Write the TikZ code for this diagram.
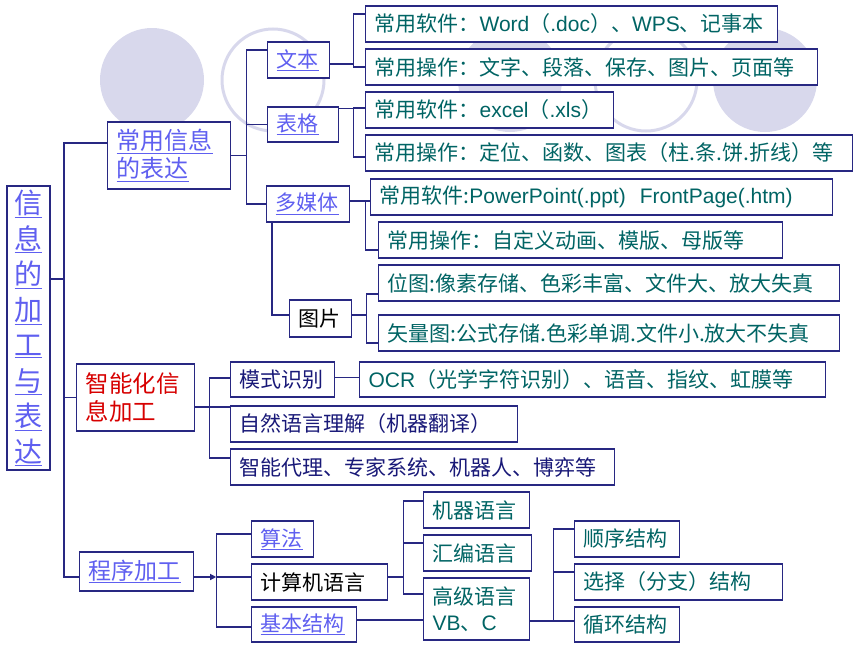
\documentclass[tikz,border=0pt]{standalone}
\usepackage{fontspec}
\newfontfamily\cjk{Noto Sans CJK SC}
\newfontfamily\engfont{Liberation Sans}
\newcommand\eng[1]{{\engfont #1}}
\usetikzlibrary{arrows.meta}
\definecolor{boxline}{RGB}{40,40,130}
\definecolor{linkblue}{RGB}{95,95,240}
\definecolor{leafteal}{RGB}{0,100,100}
\definecolor{darknavy}{RGB}{25,25,120}
\definecolor{hotred}{RGB}{215,0,0}
\definecolor{bubble}{RGB}{216,216,236}

\begin{document}
\begin{tikzpicture}[x=1pt, y=-1pt,
  box/.style={draw=boxline, line width=1.2pt, fill=white, anchor=west, inner xsep=9pt, inner ysep=1pt,
    minimum height=36pt, align=left, font=\cjk\fontsize{21}{24}\selectfont},
  leaf/.style={box, text=leafteal},
  plain/.style={box, text=darknavy},
  link/.style={box, text=linkblue},
  wire/.style={draw=boxline, line width=1.2pt}]

\useasboundingbox (0,0) rectangle (860,645);

\fill[bubble] (152,80) circle (52pt);
\draw[bubble, line width=3pt] (273,80) circle (51pt);
\fill[bubble] (510,80) circle (52pt);
\draw[bubble, line width=3pt] (646,80) circle (51pt);
\fill[bubble] (765,80) circle (52pt);

\begin{scope}
  \node[link, anchor=center, align=center, inner xsep=0pt, minimum width=43pt, minimum height=284pt,
    font=\cjk\fontsize{28}{35.5}\selectfont] (root) at (28.5,328)
    {\underline{信}\\\underline{息}\\\underline{的}\\\underline{加}\\\underline{工}\\\underline{与}\\\underline{表}\\\underline{达}};

  \node[link, text width=105pt, minimum height=67pt, font=\cjk\fontsize{24}{28}\selectfont] (express) at (107,155.5)
    {\underline{常用信息}\\\underline{的表达}};
  \node[link, text width=44pt] (txt) at (267,60) {\underline{文本}};
  \node[link, text width=53pt, minimum height=35pt] (tbl) at (267,124.5) {\underline{表格}};
  \node[link, text width=65pt] (media) at (266,204) {\underline{多媒体}};
  \node[box, text width=44pt, minimum height=37pt] (pic) at (289,318.5) {图片};

  \node[leaf, text width=394pt] (txt1) at (365,24) {常用软件：\eng{Word}（\eng{.doc}）、\eng{WPS}、记事本};
  \node[leaf, text width=434pt] (txt2) at (365,67) {常用操作：文字、段落、保存、图片、页面等};
  \node[leaf, text width=230pt] (tbl1) at (365,110) {常用软件：\eng{excel}（\eng{.xls}）};
  \node[leaf, text width=469pt] (tbl2) at (365,153) {常用操作：定位、函数、图表（柱.条.饼.折线）等};
  \node[leaf, text width=444pt] (media1) at (370,197) {常用软件:\eng{PowerPoint(.ppt)\ \ FrontPage(.htm)}};
  \node[leaf, text width=386pt] (media2) at (378,240) {常用操作：自定义动画、模版、母版等};
  \node[leaf, text width=443pt] (pic1) at (378,283) {位图:像素存储、色彩丰富、文件大、放大失真};
  \node[leaf, text width=443pt] (pic2) at (378,333) {矢量图:公式存储.色彩单调.文件小.放大不失真};

  \node[box, text=hotred, text width=100pt, minimum height=67pt, font=\cjk\fontsize{23.5}{28}\selectfont] (smart) at (76,397.5)
    {智能化信\\息加工};
  \node[plain, text width=86pt, minimum height=35pt] (pattern) at (230,379.5) {模式识别};
  \node[leaf, text width=448pt, minimum height=35pt] (ocr) at (359,379.5) {\eng{OCR}（光学字符识别）、语音、指纹、虹膜等};
  \node[plain, text width=269pt] (nlp) at (230,424) {自然语言理解（机器翻译）};
  \node[plain, text width=366pt] (agent) at (230,467) {智能代理、专家系统、机器人、博弈等};

  \node[link, text width=96pt, minimum height=39pt, font=\cjk\fontsize{23}{26}\selectfont] (prog) at (79,571.5) {\underline{程序加工}};
  \node[link, text width=44pt] (algo) at (251,539) {\underline{算法}};
  \node[box, text width=118pt] (lang) at (251,582) {计算机语言};
  \node[link, text width=87pt, minimum height=35pt] (struct) at (251,624.5) {\underline{基本结构}};

  \node[leaf, text width=88pt] (mach) at (423,510) {机器语言};
  \node[leaf, text width=90pt] (asm) at (423,553) {汇编语言};
  \node[leaf, text width=88pt, minimum height=62pt, font=\cjk\fontsize{21}{26}\selectfont] (high) at (423,609)
    {高级语言\\\eng{VB}、\eng{C}};
  \node[leaf, text width=87pt] (seq) at (574,539) {顺序结构};
  \node[leaf, text width=190pt] (sel) at (574,582) {选择（分支）结构};
  \node[leaf, text width=87pt, minimum height=35pt] (loop) at (574,624.5) {循环结构};
\end{scope}

\coordinate (trunk) at (64,279);
\draw[wire] ([yshift=49pt]root.east) -- (trunk);
\draw[wire] (trunk) |- ([yshift=12.5pt]express.west);
\draw[wire] (trunk) |- (smart.west);
\draw[wire] (trunk) |- ([yshift=-5.5pt]prog.west);

\draw[wire] (express.east) -- ++(15,0) |- ([yshift=10pt]txt.west);
\draw[wire] (express.east) -- ++(15,0) |- (tbl.west);
\draw[wire] (express.east) -- ++(15,0) |- (media.west);

\draw[wire] ([yshift=-4pt]txt.east) -- ++(23,0) |- ([yshift=10pt]txt1.west);
\draw[wire] ([yshift=-4pt]txt.east) -- ++(23,0) |- (txt2.west);
\draw[wire] ([yshift=16pt]tbl.east) -- ++(14,0) |- ([yshift=2pt]tbl1.west);
\draw[wire] ([yshift=16pt]tbl.east) -- ++(14,0) |- ([yshift=-4pt]tbl2.west);
\draw[wire] ([yshift=3pt]media.east) -- ++(15,0) |- ([yshift=-4pt]media1.west);
\draw[wire] ([yshift=3pt]media.east) -- ++(15,0) |- ([yshift=-10pt]media2.west);
\draw[wire] ([xshift=6pt]media.south west) |- ([yshift=3.5pt]pic.west);
\draw[wire] ([yshift=3.5pt]pic.east) -- ++(14,0) |- ([yshift=-11pt]pic1.west);
\draw[wire] ([yshift=3.5pt]pic.east) -- ++(14,0) |- ([yshift=-10pt]pic2.west);

\draw[wire] ([yshift=-9.5pt]smart.east) -- ++(14,0) |- ([yshift=1.5pt]pattern.west);
\draw[wire] ([yshift=-9.5pt]smart.east) -- ++(14,0) |- ([yshift=17pt]nlp.west);
\draw[wire] ([yshift=-9.5pt]smart.east) -- ++(14,0) |- ([yshift=9pt]agent.west);
\draw[wire] ([yshift=2pt]pattern.east) -- ([yshift=2pt]ocr.west);

\draw[wire, -{Triangle[length=6pt,width=6pt]}] ([yshift=-5.5pt]prog.east) -- ++(22,0) coordinate (progbus);
\draw[wire] (progbus) |- ([yshift=5pt]algo.west);
\draw[wire] (progbus) |- ([yshift=5pt]lang.west);
\draw[wire] (progbus) |- ([yshift=-2.5pt]struct.west);

\draw[wire] ([yshift=5pt]lang.east) -- ++(15,0) |- ([yshift=9pt]mach.west);
\draw[wire] ([yshift=5pt]lang.east) -- ++(15,0) |- ([yshift=10pt]asm.west);
\draw[wire] ([yshift=5pt]lang.east) -- ++(15,0) |- ([yshift=15pt]high.west);
\draw[wire] ([yshift=4.5pt]struct.east) -- ([yshift=-11pt]high.west);
\draw[wire] ([yshift=-12pt]high.east) -- ++(23,0) |- ([yshift=10pt]seq.west);
\draw[wire] ([yshift=-12pt]high.east) -- ++(23,0) |- ([yshift=10pt]sel.west);
\draw[wire] ([yshift=-12pt]high.east) -- ++(23,0) |- ([yshift=3.5pt]loop.west);

\end{tikzpicture}
\end{document}
